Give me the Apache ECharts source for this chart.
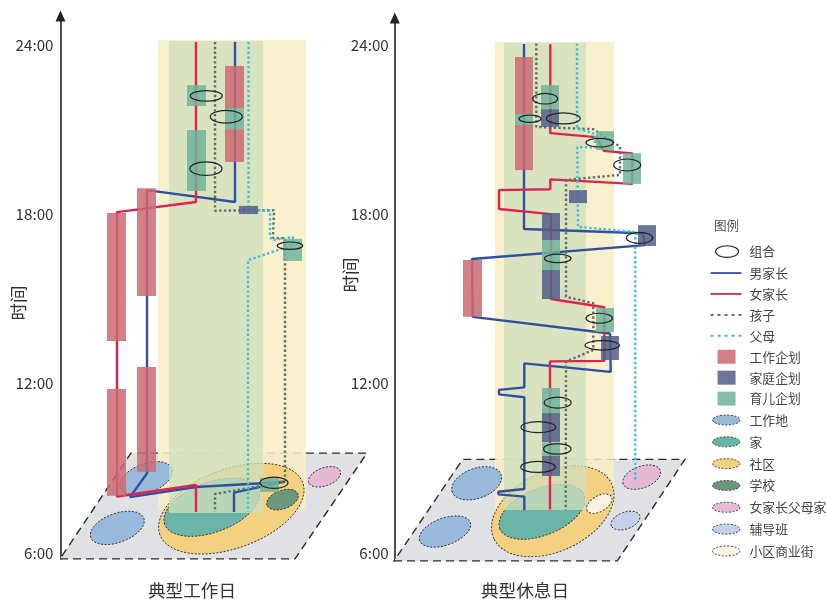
<!DOCTYPE html>
<html><head><meta charset="utf-8">
<style>html,body{margin:0;padding:0;background:#fff}#c{width:827px;height:603px}</style>
<script src="https://cdn.jsdelivr.net/npm/echarts@6/dist/echarts.min.js"></script>
</head><body><div id="c"></div>
<script>
// y values are hours; x values are positions along each panel's hidden spatial axis
const hourTicks = [6, 12, 18, 24];
const panelTitles = ['典型工作日', '典型休息日'];

// ---- workday ----
const wdMale = [[235,24.11],[235,18.44],[147,18.86],[147,8.82],[130,7.98],[196,8.34],[262,8.47],[285,8.53],[234,8.14],[234,7.45]];
const wdFemale = [[196,24.11],[196,18.44],[117,18.08],[117,8.00],[196,8.41],[196,7.45]];
const wdChild = [[215,24.11],[215,18.13],[274,18.15],[273,17.16],[285,17.16],[285,8.53],[215,8.09],[215,7.45]];
const wdParent = [[248.5,24.11],[248.5,18.15],[270,18.12],[270,17.23],[272,17.09],[293,17.20],[293,16.91],[248,16.38],[248,7.45]];
const wdWork = [[107,126,18.05,13.51],[107,126,11.81,8.03],[137,156,18.93,15.11],[137,156,12.59,8.88],[225,244,23.26,21.77],[225,244,21.02,19.86]];
const wdCare = [[187,206,22.58,21.84],[187,206,20.99,18.83],[225,244,21.77,21.02],[283,302,17.13,16.35],[260,279,8.66,8.16]];
const wdFamily = [[239,258,18.30,18.01]];
const wdGroups = [[206.3,22.20,16,5.3,0],[226.3,21.46,16,6.3,0],[206,19.62,16,6.8,0],[290,16.89,12.7,3.7,0],[274,8.49,14,5.7,0]];
const wdPlane = [[60,5.79,295,5.79,367,9.54,131,9.54]];
const wdBandOuter = [[158,306,24.18,7.52]];
const wdBandInner = [[169,263,24.14,7.42]];
const wdPlaceWork = [[117.3,6.89,28.2,14.5,20],[146.3,8.65,27.5,14.5,20]];
const wdPlaceCommunity = [[231.3,7.57,76,39.5,20]];
const wdPlaceHome = [[211.7,7.62,50,25,20]];
const wdPlaceSchool = [[282.5,7.89,16.5,9.2,20]];
const wdPlaceGrandparents = [[324.5,8.70,16.8,9,20]];

// ---- rest day ----
const rdMale = [[524,24.04],[524,17.48],[643,17.33],[645,16.91],[472,16.42],[472.7,14.37],[610,13.78],[610.7,12.42],[524.3,12.72],[524.3,11.87],[499,11.78],[499,11.62],[524.3,11.52],[524.3,8.27],[498.3,8.17],[498.3,8.08],[524.3,8.00],[524.3,7.52]];
const rdFemale = [[550.3,24.03],[550.3,20.88],[596,20.74],[604,20.25],[632.3,20.16],[632.3,19.08],[550.3,19.24],[550.3,18.89],[499,18.86],[499,18.19],[551,18.01],[551,15.00],[604.3,14.71],[604.3,12.81],[550,12.79],[550,7.54]];
const rdChild = [[536.3,24.06],[536.3,21.10],[593.3,21.02],[620,20.40],[620,19.40],[566,19.22],[566,15.08],[593.3,14.85],[593.3,13.20],[566,12.78],[565.7,7.52]];
const rdParent = [[577,24.06],[577,21.05],[595,20.85],[595,20.38],[577.3,20.38],[578,17.56],[636.7,17.37],[635.3,17.23],[635.3,8.55]];
const rdWork = [[515,533,23.58,21.56],[515,533,21.17,19.57],[463,482,16.38,14.37]];
const rdCare = [[515,533,21.56,21.17],[541,559,22.58,21.73],[596,614,20.95,20.28],[623,641,20.17,19.08],[542,560,17.09,16.03],[596,614,14.68,13.83],[542,560,11.85,10.96],[542,560,9.91,9.44]];
const rdFamily = [[541,559,21.73,21.10],[569,587,18.86,18.40],[542,560,18.05,17.09],[638,656,17.62,16.88],[542,560,16.03,15.00],[601,619,13.69,12.84],[542,560,10.96,9.93],[542,560,9.44,8.73]];
const rdGroups = [[545.2,22.10,12.5,5.3,0],[530,21.39,11,3.7,0],[563.3,21.40,17,5.5,0],[599.7,20.54,13.7,4.3,0],[627.2,19.75,13.5,6,0],[639.5,17.17,13.2,5.5,0],[557.7,16.44,13.3,4.2,0],[599.2,14.32,13.2,5,0],[602.2,13.36,17.2,4.7,0],[557.7,11.33,13.5,5.5,0],[538.3,10.46,17.3,5.5,0],[557.3,9.69,13.7,5.3,0],[538,9.05,17.3,5.5,0]];
const rdPlane = [[394,5.72,617.3,5.72,685,9.32,462.7,9.32]];
const rdBandOuter = [[495,614,24.11,7.46]];
const rdBandInner = [[504,586,24.08,7.52]];
const rdPlaceWork = [[476.7,8.47,26,15,20],[445,6.76,26.9,13.5,20]];
const rdPlaceCommunity = [[552.8,7.48,64.9,40,25]];
const rdPlaceHome = [[542,7.46,45.4,23.3,22]];
const rdPlaceCommercial = [[599.3,7.75,14,7.8,30]];
const rdPlaceGrandparents = [[641.7,8.69,19.8,10.8,20]];
const rdPlaceTutoring = [[625.5,7.15,15.1,8.4,20]];

const C = {
  male:'#2F4FA0', female:'#E0224F', child:'#5D7068', parent:'#3EC1D8',
  work:'rgba(203,106,113,.85)', family:'rgba(84,96,138,.86)', care:'rgba(112,180,155,.85)',
  plane:'#E0E1E5', outer:'rgba(247,236,195,.85)', inner:'rgba(208,222,187,.77)',
  pWork:'#98B8DC', pHome:'#6BB5A8', pComm:'#F3D180', pSchool:'#69997A', pGrand:'#E5B9D5', pTutor:'#C3D2EA', pShop:'#FBF4E6',
  ink:'#333333'
};
const FONT = '"Noto Sans CJK SC","Noto Sans",sans-serif';

function rectSeries(name, data, gi, color, z){
  return {type:'custom', name, data, xAxisIndex:gi, yAxisIndex:gi, z, silent:true, animation:false, clip:false,
    renderItem(p, api){
      const a = api.coord([api.value(0), api.value(2)]), b = api.coord([api.value(1), api.value(3)]);
      return {type:'rect', shape:{x:a[0], y:a[1], width:b[0]-a[0], height:b[1]-a[1]}, style:{fill:color}};
    }};
}
function ellipseSeries(name, data, gi, style, z){
  return {type:'custom', name, data, xAxisIndex:gi, yAxisIndex:gi, z, silent:true, animation:false, clip:false,
    renderItem(p, api){
      const c = api.coord([api.value(0), api.value(1)]);
      const rx = api.size([api.value(2),0])[0], ry = api.size([api.value(3),0])[0];
      return {type:'ellipse', x:c[0], y:c[1], rotation:api.value(4)*Math.PI/180, shape:{cx:0,cy:0,rx,ry}, style};
    }};
}
function planeSeries(data, gi){
  return {type:'custom', name:'平面', data, xAxisIndex:gi, yAxisIndex:gi, z:1, silent:true, animation:false, clip:false,
    renderItem(p, api){
      const pts = [0,2,4,6].map(i => api.coord([api.value(i), api.value(i+1)]));
      return {type:'polygon', shape:{points:pts}, style:{fill:C.plane, stroke:'#2b2b2b', lineWidth:1.4, lineDash:[8,5]}};
    }};
}
function pathSeries(name, data, gi, color, dotted){
  return {type:'line', name, data, xAxisIndex:gi, yAxisIndex:gi, z:6, silent:true, animation:false, clip:false,
    showSymbol:false, symbol:'none', lineStyle:{color, width: 2.4, type: dotted ? [2.4,2.4] : 'solid'}, itemStyle:{color}};
}
const placeStyle = fill => ({fill, stroke:'#333', lineWidth:0.9, lineDash:[2,1.6]});
const groupStyle = {fill:'rgba(0,0,0,0)', stroke:'#222', lineWidth:1.2};

function panel(gi, d){
  const s = [planeSeries(d.plane, gi),
    rectSeries('外带', d.outer, gi, C.outer, 2),
    ellipseSeries('社区', d.comm, gi, placeStyle(C.pComm), 3),
    ellipseSeries('家', d.home, gi, placeStyle(C.pHome), 4),
    ellipseSeries('工作地', d.work, gi, placeStyle(C.pWork), 4),
    ellipseSeries('女家长父母家', d.grand, gi, placeStyle(C.pGrand), 4)];
  if (d.school) s.push(ellipseSeries('学校', d.school, gi, placeStyle(C.pSchool), 4));
  if (d.tutor) s.push(ellipseSeries('辅导班', d.tutor, gi, placeStyle(C.pTutor), 4));
  if (d.shop) s.push(ellipseSeries('小区商业街', d.shop, gi, placeStyle(C.pShop), 4));
  s.push(rectSeries('内带', d.inner, gi, C.inner, 5),
    pathSeries('男家长', d.male, gi, C.male, false),
    pathSeries('女家长', d.female, gi, C.female, false),
    pathSeries('孩子', d.child, gi, C.child, true),
    pathSeries('父母', d.parent, gi, C.parent, true),
    rectSeries('工作企划', d.wRect, gi, C.work, 7),
    rectSeries('家庭企划', d.fRect, gi, C.family, 7),
    rectSeries('育儿企划', d.cRect, gi, C.care, 7),
    ellipseSeries('组合', d.groups, gi, groupStyle, 8));
  return s;
}
const series = [
  ...panel(0,{plane:wdPlane,outer:wdBandOuter,inner:wdBandInner,comm:wdPlaceCommunity,home:wdPlaceHome,work:wdPlaceWork,grand:wdPlaceGrandparents,school:wdPlaceSchool,male:wdMale,female:wdFemale,child:wdChild,parent:wdParent,wRect:wdWork,fRect:wdFamily,cRect:wdCare,groups:wdGroups}),
  ...panel(1,{plane:rdPlane,outer:rdBandOuter,inner:rdBandInner,comm:rdPlaceCommunity,home:rdPlaceHome,work:rdPlaceWork,grand:rdPlaceGrandparents,tutor:rdPlaceTutoring,shop:rdPlaceCommercial,male:rdMale,female:rdFemale,child:rdChild,parent:rdParent,wRect:rdWork,fRect:rdFamily,cRect:rdCare,groups:rdGroups})
];

// legend icons share one 31x14 frame so each keeps its own size
const FRAME = 'M0 0L0 0M31 14L31 14';
const ICON = {
  group:'path://'+FRAME+'M5 7a11.5 5.8 0 1 0 23 0a11.5 5.8 0 1 0 -23 0z',
  line:'path://'+FRAME+'M0 6.1h31v1.8h-31z',
  dots:'path://'+FRAME+'M0 6h3v2h-3zM7 6h3v2h-3zM14 6h3v2h-3zM21 6h3v2h-3zM28 6h3v2h-3z',
  rect:'path://'+FRAME+'M7 0h18v14h-18z',
  place:'path://'+FRAME+'M2 7a13.7 5 0 1 0 27.4 0a13.7 5 0 1 0 -27.4 0z'
};
const placeLegend = (name,color) => ({name, icon:ICON.place, itemStyle:{color, borderColor:'#333', borderWidth:0.9, borderType:[2,1.6]}});
const legendData = [
  {name:'组合', icon:ICON.group, itemStyle:{color:'#fff', borderColor:'#222', borderWidth:1.1}},
  {name:'男家长', icon:ICON.line, itemStyle:{color:C.male}},
  {name:'女家长', icon:ICON.line, itemStyle:{color:C.female}},
  {name:'孩子', icon:ICON.dots, itemStyle:{color:C.child}},
  {name:'父母', icon:ICON.dots, itemStyle:{color:C.parent}},
  {name:'工作企划', icon:ICON.rect, itemStyle:{color:C.work}},
  {name:'家庭企划', icon:ICON.rect, itemStyle:{color:C.family}},
  {name:'育儿企划', icon:ICON.rect, itemStyle:{color:C.care}},
  placeLegend('工作地',C.pWork), placeLegend('家',C.pHome), placeLegend('社区',C.pComm),
  placeLegend('学校',C.pSchool), placeLegend('女家长父母家',C.pGrand), placeLegend('辅导班',C.pTutor), placeLegend('小区商业街',C.pShop)
];

const xAxisOf = (min,max,gi) => ({type:'value', gridIndex:gi, min, max, show:false});
const yAxisOf = (min,max,gi,margin) => ({type:'value', gridIndex:gi, min, max, position:'left',
  splitLine:{show:false}, axisTick:{show:false},
  axisLine:{show:true, onZero:false, symbol:['none','triangle'], symbolSize:[10,11], lineStyle:{color:'#222', width:1.6}},
  axisLabel:{show:true, margin, customValues:hourTicks, formatter:v=>v+':00', color:C.ink, fontSize:15.2, fontFamily:FONT}});

const chart = echarts.init(document.getElementById('c'), null, {renderer:'canvas'});
chart.setOption({
  animation:false, backgroundColor:'#fff',
  title:[
    {text:panelTitles[0], left:192, top:582, textAlign:'center', padding:0, textStyle:{fontSize:17.6, fontWeight:'normal', color:C.ink, fontFamily:FONT}},
    {text:panelTitles[1], left:525, top:582, textAlign:'center', padding:0, textStyle:{fontSize:17.6, fontWeight:'normal', color:C.ink, fontFamily:FONT}},
    {text:'图例', left:714, top:219, padding:0, textStyle:{fontSize:12.6, fontWeight:'normal', color:'#555', fontFamily:FONT}}
  ],
  grid:[{left:60.5, top:16, width:310, height:543},{left:394.8, top:18, width:290, height:543}],
  xAxis:[xAxisOf(60.5,370.5,0), xAxisOf(394.8,684.8,1)],
  yAxis:[yAxisOf(5.787,25.03,0,7), yAxisOf(5.717,24.96,1,6)],
  legend:{orient:'vertical', left:710, top:244, padding:0, itemWidth:31, itemHeight:14, itemGap:6.93, selectedMode:false,
    data:legendData, textStyle:{fontSize:12.8, color:'#444', fontFamily:FONT, padding:[0,0,0,3]}},
  graphic:[
    {type:'text', x:18, y:303, rotation:Math.PI/2, style:{text:'时间', align:'center', verticalAlign:'middle', fill:C.ink, font:'17.5px '+FONT}},
    {type:'text', x:350, y:275, rotation:Math.PI/2, style:{text:'时间', align:'center', verticalAlign:'middle', fill:C.ink, font:'17.5px '+FONT}}
  ],
  series
});
</script></body></html>
